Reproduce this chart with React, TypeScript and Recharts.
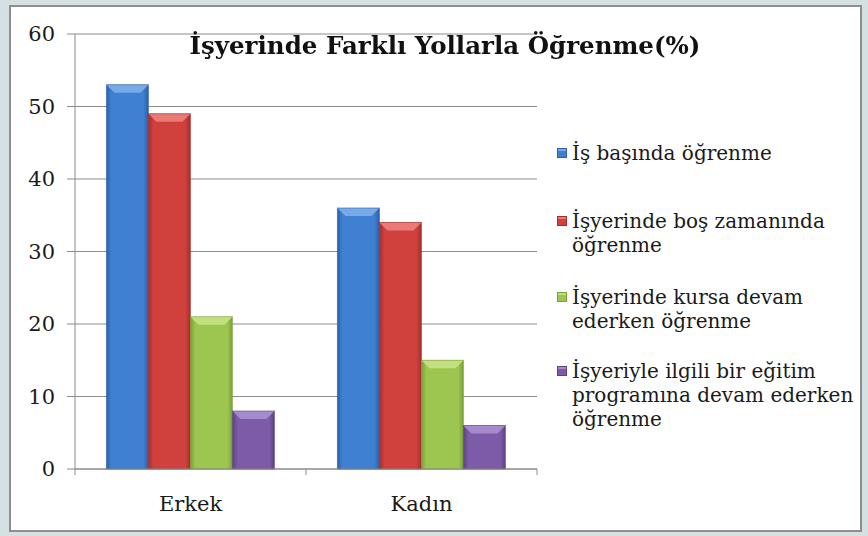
import React from 'react';
import { BarChart, Bar, XAxis, YAxis, CartesianGrid } from 'recharts';

const categories = ['Erkek', 'Kadın'];
const isBasinda = [53, 36];
const bosZamaninda = [49, 34];
const kursaDevam = [21, 15];
const egitimProgrami = [8, 6];
const yTicks = [0, 10, 20, 30, 40, 50, 60];

const seriesNames = [
  'İş başında öğrenme',
  'İşyerinde boş zamanında öğrenme',
  'İşyerinde kursa devam ederken öğrenme',
  'İşyeriyle ilgili bir eğitim programına devam ederken öğrenme',
];

const chartData = categories.map((name, i) => ({
  name,
  s1: isBasinda[i],
  s2: bosZamaninda[i],
  s3: kursaDevam[i],
  s4: egitimProgrami[i],
}));

const palette = [
  { key: 's1', base: '#3f80d2', dark: '#2c5fa6', light: '#79aae8' },
  { key: 's2', base: '#d0403d', dark: '#a32e2c', light: '#ea7a76' },
  { key: 's3', base: '#9dc650', dark: '#7a9f38', light: '#c2e07f' },
  { key: 's4', base: '#7d5ba8', dark: '#5c4282', light: '#a58bcb' },
];

const FONT = '"DejaVu Serif", serif';
const W = 868;
const H = 536;
const MARGIN = { top: 34, right: 331, bottom: 17, left: 0 };
const Y_WIDTH = 75;
const X_HEIGHT = 50;
const band = (W - MARGIN.left - MARGIN.right - Y_WIDTH) / categories.length;

const BevelBar = (props: any) => {
  const { x, y, width, height, index, seriesIdx } = props;
  if (!height || height <= 0) return null;
  const c = palette[seriesIdx];
  const id = `grad-${seriesIdx}-${index}`;
  const b = Math.min(8, height / 2);
  return (
    <g>
      <defs>
        <linearGradient id={id} x1="0" y1="0" x2="1" y2="0">
          <stop offset="0%" stopColor={c.dark} />
          <stop offset="12%" stopColor={c.base} />
          <stop offset="88%" stopColor={c.base} />
          <stop offset="100%" stopColor={c.dark} />
        </linearGradient>
      </defs>
      <rect x={x} y={y} width={width} height={height} fill={`url(#${id})`} />
      <polygon
        points={`${x},${y} ${x + width},${y} ${x + width - b},${y + b} ${x + b},${y + b}`}
        fill={c.light}
      />
      <rect x={x} y={y} width={width} height={height} fill="none" stroke={c.dark} strokeOpacity={0.6} />
    </g>
  );
};

const XTick = (props: any) => {
  const { x, y, payload, index } = props;
  const half = band / 2;
  const axisY = y - 10;
  return (
    <g>
      <line x1={x - half} y1={axisY} x2={x - half} y2={axisY + 6} stroke="#8a8a8a" />
      {index === categories.length - 1 && (
        <line x1={x + half} y1={axisY} x2={x + half} y2={axisY + 6} stroke="#8a8a8a" />
      )}
      <text x={x} y={axisY + 42} textAnchor="middle" fontFamily={FONT} fontSize={21} fill="#1a1a1a">
        {payload.value}
      </text>
    </g>
  );
};

const legendGaps = [0, 44, 28, 26];

const LegendBox = () => (
  <div
    style={{
      position: 'absolute',
      left: 557,
      top: 141,
      width: 300,
      fontFamily: FONT,
      fontSize: 20,
      lineHeight: '24px',
      color: '#1a1a1a',
    }}
  >
    {seriesNames.map((n, i) => (
      <div key={n} style={{ display: 'flex', marginTop: legendGaps[i] }}>
        <span
          style={{
            display: 'inline-block',
            width: 10,
            height: 10,
            marginTop: 7,
            marginRight: 5,
            flex: '0 0 10px',
            background: palette[i].base,
            boxShadow: `inset 0 0 0 1px ${palette[i].dark}, inset 0 3px 0 ${palette[i].light}`,
          }}
        />
        <span style={{ width: 290 }}>{n}</span>
      </div>
    ))}
  </div>
);

export default function App() {
  return (
    <div style={{ position: 'fixed', left: 0, top: 0, width: W, height: H, background: '#d5e0e2' }}>
      <div
        style={{
          position: 'absolute',
          left: 9,
          top: 5,
          width: 853,
          height: 527,
          boxSizing: 'border-box',
          background: '#ffffff',
          border: '2px solid #8e8e8e',
        }}
      />
      <div style={{ position: 'absolute', left: 0, top: 0 }}>
        <BarChart width={W} height={H} data={chartData} margin={MARGIN} barCategoryGap="13.6%" barGap={0}>
          <CartesianGrid vertical={false} stroke="#8c8c8c" />
          <XAxis
            dataKey="name"
            height={X_HEIGHT}
            axisLine={{ stroke: '#8a8a8a' }}
            tickLine={false}
            tick={<XTick />}
            tickSize={0}
            tickMargin={10}
            interval={0}
          />
          <YAxis
            width={Y_WIDTH}
            domain={[0, 60]}
            ticks={yTicks}
            interval={0}
            axisLine={{ stroke: '#8a8a8a' }}
            tickLine={{ stroke: '#8a8a8a' }}
            tickSize={8}
            tickMargin={12}
            tick={{ fontFamily: FONT, fontSize: 21, fill: '#1a1a1a' }}
          />
          {palette.map((p, i) => (
            <Bar
              key={p.key}
              dataKey={p.key}
              name={seriesNames[i]}
              fill={p.base}
              isAnimationActive={false}
              shape={(props: any) => <BevelBar {...props} seriesIdx={i} />}
            />
          ))}
        </BarChart>
      </div>
      <LegendBox />
      <div
        style={{
          position: 'absolute',
          left: 0,
          width: 890,
          top: 31,
          textAlign: 'center',
          fontFamily: FONT,
          fontWeight: 'bold',
          fontSize: 24.5,
          color: '#111',
        }}
      >
        İşyerinde Farklı Yollarla Öğrenme(%)
      </div>
    </div>
  );
}
